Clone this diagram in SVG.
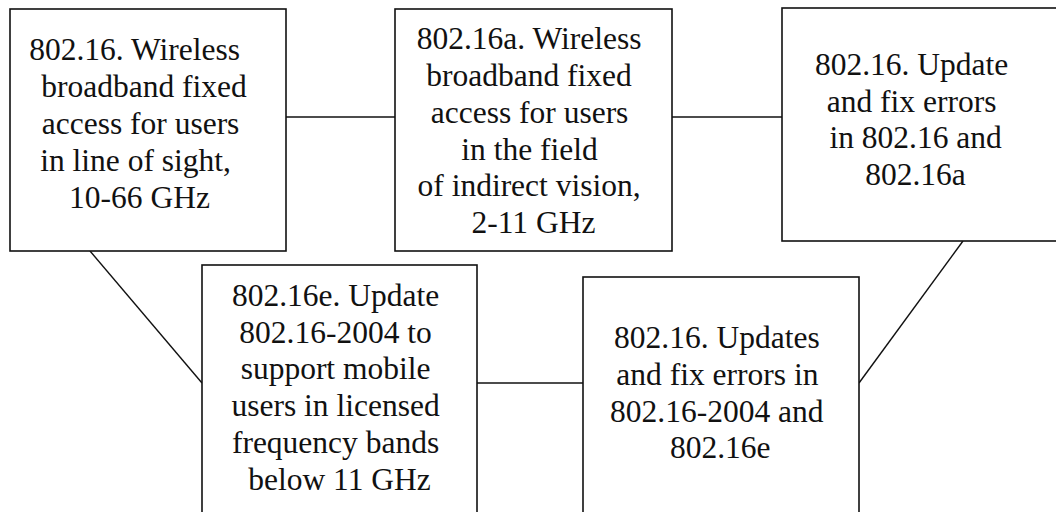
<svg xmlns="http://www.w3.org/2000/svg" width="1056" height="512" viewBox="0 0 1056 512">
  <style>
    .box { fill: #ffffff; stroke: #111111; stroke-width: 1.6; }
    .link { fill: none; stroke: #111111; stroke-width: 1.4; }
    .label { font-size: 31.5px; fill: #111111; text-anchor: middle; }
  </style>
  <rect x="0" y="0" width="1056" height="512" fill="#ffffff"/>

  <!-- connectors -->
  <g id="connectors">
    <line class="link" x1="286" y1="117" x2="395" y2="117"/>
    <line class="link" x1="672" y1="117" x2="782" y2="117"/>
    <line class="link" x1="90" y1="251" x2="202" y2="383"/>
    <line class="link" x1="477" y1="383" x2="583" y2="383"/>
    <line class="link" x1="859" y1="383" x2="963" y2="241"/>
  </g>

  <g font-family="'Liberation Serif', 'DejaVu Serif', serif">
  <!-- 802.16 -->
  <g id="node-80216">
    <rect class="box" x="10" y="9" width="276" height="242"/>
    <text class="label">
      <tspan x="138.5" y="60">802.16. Wireless</tspan>
      <tspan x="148" y="97">broadband fixed</tspan>
      <tspan x="144.5" y="134">access for users</tspan>
      <tspan x="139.5" y="171">in line of sight,</tspan>
      <tspan x="139.5" y="208">10-66 GHz</tspan>
    </text>
  </g>

  <!-- 802.16a -->
  <g id="node-80216a">
    <rect class="box" x="395" y="9" width="277" height="242"/>
    <text class="label">
      <tspan x="533" y="49">802.16a. Wireless</tspan>
      <tspan x="533" y="86">broadband fixed</tspan>
      <tspan x="533.5" y="122.5">access for users</tspan>
      <tspan x="533.5" y="159.5">in the field</tspan>
      <tspan x="533" y="196">of indirect vision,</tspan>
      <tspan x="533.5" y="233">2-11 GHz</tspan>
    </text>
  </g>

  <!-- 802.16 update (2004) -->
  <g id="node-80216-2004">
    <rect class="box" x="782" y="8" width="290" height="233"/>
    <text class="label">
      <tspan x="915.5" y="75">802.16. Update</tspan>
      <tspan x="915.5" y="111.7">and fix errors</tspan>
      <tspan x="919.5" y="148.4">in 802.16 and</tspan>
      <tspan x="915.5" y="185.1">802.16a</tspan>
    </text>
  </g>

  <!-- 802.16e -->
  <g id="node-80216e">
    <rect class="box" x="202" y="265" width="275" height="260"/>
    <text class="label">
      <tspan x="339.5" y="306">802.16e. Update</tspan>
      <tspan x="339.5" y="342.7">802.16-2004 to</tspan>
      <tspan x="339.5" y="379.4">support mobile</tspan>
      <tspan x="339.5" y="416.1">users in licensed</tspan>
      <tspan x="339.5" y="452.8">frequency bands</tspan>
      <tspan x="339.5" y="489.5">below 11 GHz</tspan>
    </text>
  </g>

  <!-- 802.16 update (2005) -->
  <g id="node-80216-2005">
    <rect class="box" x="583" y="277" width="276" height="250"/>
    <text class="label">
      <tspan x="720.8" y="348.3">802.16. Updates</tspan>
      <tspan x="721.3" y="385">and fix errors in</tspan>
      <tspan x="720.8" y="421.7">802.16-2004 and</tspan>
      <tspan x="720.3" y="458.4">802.16e</tspan>
    </text>
  </g>
  </g>
</svg>
